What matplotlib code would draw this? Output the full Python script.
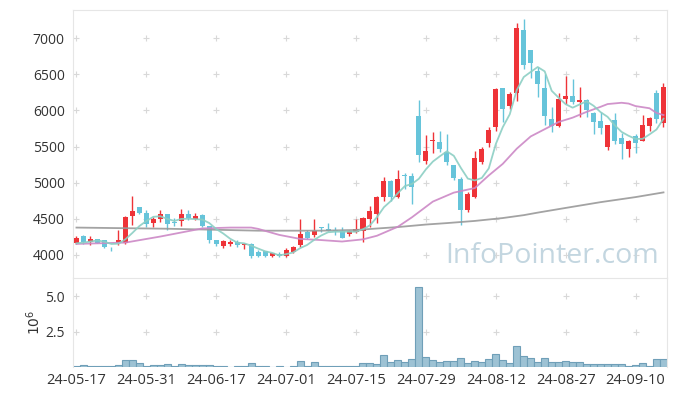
import numpy as np
import pandas as pd
import matplotlib
matplotlib.use("Agg")
import matplotlib.pyplot as plt

plt.rcParams['font.family'] = ['Open Sans', 'DejaVu Sans']

# trading days (KRX calendar, holidays removed)
holidays = ['2024-06-06', '2024-08-15', '2024-09-16', '2024-09-17', '2024-09-18']
days = pd.bdate_range('2024-05-17', '2024-09-19')
days = days[~days.isin(pd.to_datetime(holidays))]

# OHLC
open_ = [4170, 4265, 4175, 4215, 4200, 4080, 4170, 4165, 4540, 4660,
         4575, 4440, 4495, 4565, 4460, 4475, 4565, 4500, 4555, 4395,
         4205, 4125, 4150, 4175, 4130, 4150, 4045, 4055, 3990, 4015,
         3990, 4035, 4130, 4320, 4270, 4380, 4360, 4345, 4330, 4290,
         4315, 4335, 4500, 4560, 4795, 5025, 4795, 5105, 5090, 5920,
         5305, 5570, 5565, 5430, 5245, 5050, 4615, 4800, 5280, 5545,
         5775, 6305, 6065, 6235, 7110, 6835, 6545, 6305, 5880, 5790,
         6155, 6200, 6120, 6150, 5960, 5855, 5500, 5865, 5625, 5460,
         5650, 5580, 5790, 6235, 5820]
high = [4265, 4270, 4265, 4225, 4210, 4105, 4345, 4545, 4815, 4665,
        4620, 4520, 4620, 4570, 4505, 4635, 4620, 4585, 4560, 4400,
        4210, 4200, 4200, 4200, 4160, 4160, 4070, 4060, 4030, 4037,
        4100, 4125, 4500, 4345, 4500, 4385, 4445, 4380, 4380, 4345,
        4500, 4530, 4670, 4815, 5075, 5030, 5175, 5140, 5130, 6150,
        5660, 5705, 5720, 5680, 5250, 5085, 4875, 5445, 5490, 5775,
        6305, 6310, 6260, 7205, 7270, 6840, 6605, 6510, 6050, 6235,
        6475, 6440, 6320, 6165, 5980, 5980, 5800, 5960, 5690, 5590,
        5675, 5935, 5905, 6280, 6385]
low = [4150, 4150, 4135, 4160, 4095, 4050, 4140, 4150, 4420, 4560,
       4385, 4385, 4460, 4340, 4400, 4395, 4485, 4485, 4385, 4165,
       4120, 4090, 4125, 4115, 4083, 3955, 3977, 3975, 3977, 3968,
       3975, 4025, 4105, 4215, 4245, 4320, 4325, 4280, 4230, 4265,
       4300, 4175, 4385, 4440, 4740, 4740, 4785, 4910, 4705, 5290,
       5260, 5405, 5430, 5245, 5030, 4415, 4600, 4785, 5260, 5490,
       5720, 5845, 6020, 6130, 6580, 6445, 6180, 5800, 5695, 5775,
       6085, 6095, 5915, 5915, 5675, 5675, 5450, 5530, 5330, 5350,
       5405, 5580, 5720, 5820, 5765]
close = [4230, 4185, 4220, 4170, 4105, 4075, 4205, 4525, 4610, 4580,
         4425, 4495, 4565, 4425, 4440, 4565, 4505, 4540, 4395, 4200,
         4150, 4195, 4175, 4130, 4150, 3990, 3990, 3990, 4020, 3980,
         4070, 4105, 4290, 4240, 4330, 4370, 4335, 4330, 4240, 4335,
         4360, 4505, 4610, 4800, 5025, 4795, 5050, 5095, 4945, 5385,
         5445, 5590, 5460, 5290, 5070, 4615, 4845, 5335, 5460, 5730,
         6295, 6020, 6225, 7135, 6635, 6650, 6360, 5925, 5790, 6155,
         6200, 6120, 6150, 6005, 5845, 5760, 5795, 5580, 5535, 5575,
         5545, 5795, 5890, 5875, 6320]
# volume in millions
volume = [0.05, 0.12, 0.05, 0.05, 0.05, 0.05, 0.12, 0.52, 0.52, 0.30,
          0.05, 0.12, 0.12, 0.18, 0.05, 0.18, 0.12, 0.12, 0.12, 0.12,
          0.05, 0.05, 0.0, 0.05, 0.05, 0.25, 0.05, 0.05, 0.0, 0.05,
          0.0, 0.05, 0.44, 0.05, 0.37, 0.05, 0.05, 0.05, 0.05, 0.05,
          0.05, 0.30, 0.30, 0.23, 0.86, 0.37, 0.47, 0.37, 0.58, 5.64,
          0.72, 0.51, 0.37, 0.44, 0.44, 0.65, 0.30, 0.44, 0.37, 0.58,
          0.93, 0.51, 0.30, 1.49, 0.79, 0.65, 0.37, 0.65, 0.37, 0.37,
          0.44, 0.37, 0.37, 0.23, 0.23, 0.23, 0.23, 0.23, 0.23, 0.09,
          0.16, 0.30, 0.09, 0.58, 0.58]

# moving averages as drawn
ma5 = [4160, 4170, 4185, 4200, 4182, 4151, 4155, 4216, 4304, 4399,
       4469, 4527, 4535, 4498, 4470, 4498, 4500, 4495, 4489, 4441,
       4358, 4296, 4223, 4170, 4160, 4128, 4087, 4050, 4028, 3994,
       4010, 4033, 4093, 4137, 4207, 4267, 4313, 4321, 4321, 4322,
       4320, 4354, 4410, 4522, 4660, 4747, 4856, 4953, 4982, 5054,
       5184, 5292, 5365, 5434, 5371, 5205, 5056, 5031, 5065, 5197,
       5533, 5768, 5946, 6281, 6462, 6533, 6601, 6541, 6272, 6176,
       6086, 6038, 6083, 6126, 6064, 5976, 5911, 5797, 5703, 5649,
       5606, 5606, 5668, 5736, 5885]
ma20_idx = [0, 7, 12, 18, 22, 25, 26, 29, 32, 35, 38, 41, 43, 46, 48, 51, 54,
            57, 59, 61, 63, 65, 67, 69, 71, 73, 75, 76, 78, 79, 80, 82, 83, 84]
ma20 = [4152, 4170, 4254, 4366, 4378, 4378, 4360, 4277, 4221, 4205, 4185,
        4215, 4265, 4390, 4520, 4738, 4862, 4925, 5100, 5260, 5470, 5640,
        5740, 5840, 5900, 5980, 6050, 6088, 6106, 6095, 6060, 6030, 5965, 5936]
ma60_idx = [0, 13, 26, 35, 40, 46, 50, 53, 57, 61, 64, 66, 70, 75, 80, 84]
ma60 = [4378, 4362, 4335, 4335, 4345, 4385, 4420, 4440, 4470, 4510, 4550,
        4585, 4650, 4730, 4800, 4865]

x = np.arange(len(close))
labels = [d.strftime('%y-%m-%d') for d in days]
tick_pos = x[::10]

RED = '#ee3338'
BLUE = '#66c4da'
GRID = '#d8d8d8'
SPINE = '#e6e6e6'

fig = plt.figure(figsize=(6.77, 3.96), dpi=100)
ax = fig.add_axes([0.1078, 0.298, 0.8774, 0.6767])
axv = fig.add_axes([0.1078, 0.0732, 0.8774, 0.2248], sharex=ax)

o = np.array(open_)
c = np.array(close)
cols = [RED if cc >= oo else BLUE for oo, cc in zip(o, c)]

# grid crosses
yt = np.arange(4000, 7001, 500)
gx, gy = np.meshgrid(tick_pos, yt)
ax.plot(gx.ravel(), gy.ravel(), '+', color=GRID, ms=5, mew=0.8, zorder=0)

ax.vlines(x, low, high, color=cols, lw=1.0, zorder=2)
body = np.where(np.abs(c - o) < 8, 8, c - o)
ax.bar(x, body, bottom=o, width=0.72, color=cols, zorder=3)

ax.plot(ma60_idx, ma60, color='#999999', lw=1.3, alpha=0.9, zorder=4)
ax.plot(ma20_idx, ma20, color='#cc88c6', lw=1.3, alpha=0.9, zorder=4)
ax.plot(x, ma5, color='#8ccfc4', lw=1.3, alpha=0.9, zorder=4)

ax.text(0.807, 0.082, 'InfoPointer.com', transform=ax.transAxes,
        ha='center', va='center', fontsize=20.5, color='#c3d6e0', zorder=5)

ax.set_xlim(-0.5, len(x) - 0.5)
ax.set_ylim(3680, 7390)
ax.set_yticks(yt)
ax.tick_params(axis='y', length=0, pad=6, labelsize=10, labelcolor='#333333')
ax.tick_params(axis='x', length=0, labelbottom=False)
for s in ax.spines.values():
    s.set_color(SPINE)
ax.spines['bottom'].set_visible(False)

# volume panel
vt = [2.5, 5.0]
gx2, gy2 = np.meshgrid(tick_pos, vt)
axv.plot(gx2.ravel(), gy2.ravel(), '+', color=GRID, ms=5, mew=0.8, zorder=0)
axv.bar(x, volume, width=1.0, color='#9dc2d4', edgecolor='#6f9fb8', lw=0.8, zorder=2)
axv.set_ylim(0, 6.27)
axv.set_yticks(vt)
axv.set_yticklabels(['2.5', '5.0'])
axv.set_ylabel('$10^{6}$', fontsize=10, color='#333333', labelpad=1)
axv.set_xticks(tick_pos)
axv.set_xticklabels([labels[i] for i in tick_pos])
axv.tick_params(axis='both', length=0, labelsize=10, labelcolor='#333333')
axv.tick_params(axis='x', labelsize=10.5, pad=4)
axv.tick_params(axis='y', pad=6)
for s in axv.spines.values():
    s.set_color(SPINE)
axv.spines['bottom'].set_visible(False)

fig.savefig('out.png', dpi=100)
